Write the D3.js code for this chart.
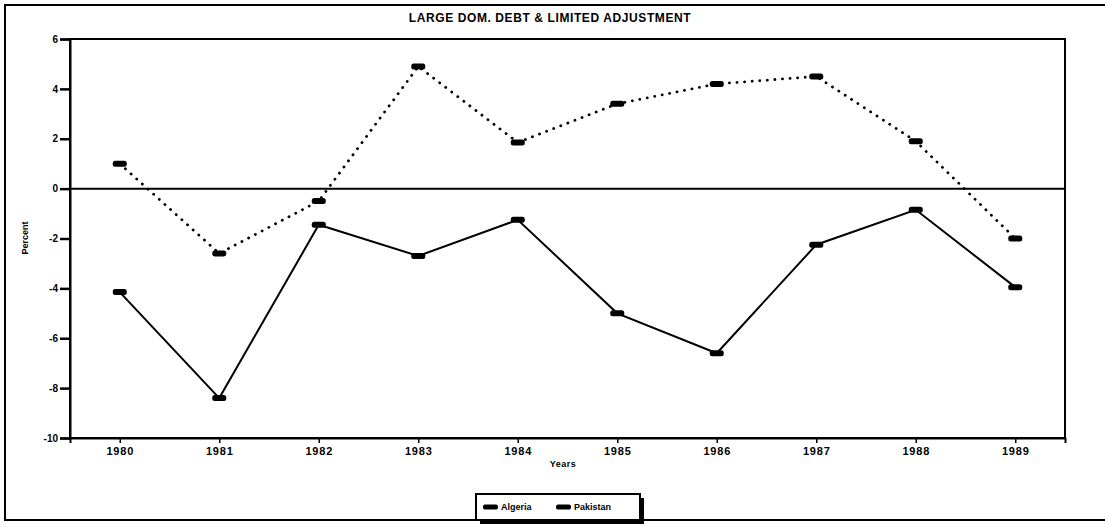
<!DOCTYPE html>
<html>
<head>
<meta charset="utf-8">
<script src="https://cdn.jsdelivr.net/npm/d3@7"></script>
<style>
  body { margin: 0; background: #fff; }
  text { font-family: "Liberation Sans", Arial, sans-serif; font-weight: bold; fill: #000; }
</style>
</head>
<body>
<svg id="chart" width="1105" height="528"></svg>
<script>
// ---- data ----
const years    = [1980, 1981, 1982, 1983, 1984, 1985, 1986, 1987, 1988, 1989];
const algeria  = [-4.15, -8.4, -1.45, -2.7, -1.25, -5.0, -6.6, -2.25, -0.85, -3.95];
const pakistan = [1.0, -2.6, -0.5, 4.9, 1.85, 3.4, 4.2, 4.5, 1.9, -2.0];
const yTicks   = [6, 4, 2, 0, -2, -4, -6, -8, -10];
const title    = 'LARGE DOM. DEBT & LIMITED ADJUSTMENT';

const svg = d3.select('#chart');
const plot = { left: 70, right: 1065, top: 39, bottom: 438 };

// outer frame
svg.append('rect')
  .attr('x', 5).attr('y', 5).attr('width', 1130).attr('height', 515)
  .attr('fill', 'none').attr('stroke', '#000').attr('stroke-width', 2);

svg.append('text')
  .attr('x', 550).attr('y', 22)
  .attr('text-anchor', 'middle')
  .style('font-size', '12px').style('letter-spacing', '0.6px')
  .text(title);

const x = d3.scalePoint().domain(years).range([plot.left, plot.right]).padding(0.5);
const y = d3.scaleLinear().domain([-10, 6]).range([plot.bottom, plot.top]);

// plot box
svg.append('rect')
  .attr('x', plot.left).attr('y', plot.top)
  .attr('width', plot.right - plot.left).attr('height', plot.bottom - plot.top)
  .attr('fill', 'none').attr('stroke', '#000').attr('stroke-width', 2);

/* -------- axes -------- */
const yAxis = svg.append('g')
  .attr('transform', `translate(${plot.left},0)`)
  .call(d3.axisLeft(y).tickValues(yTicks).tickSize(10).tickPadding(2).tickFormat(d => String(d)));
yAxis.select('.domain').attr('stroke-width', 2);
yAxis.selectAll('.tick line').attr('stroke-width', 2.5);
yAxis.selectAll('text').style('font-size', '10px');

const xAxis = svg.append('g')
  .attr('transform', `translate(0,${plot.bottom})`)
  .call(d3.axisBottom(x).tickSize(5).tickPadding(4));
xAxis.select('.domain').attr('stroke-width', 2);
xAxis.selectAll('.tick line').attr('stroke-width', 1.5);
xAxis.selectAll('text').style('font-size', '11px').style('letter-spacing', '0.8px');

svg.append('text')
  .attr('x', 563).attr('y', 467).attr('text-anchor', 'middle')
  .style('font-size', '9px').style('letter-spacing', '0.5px').text('Years');

svg.append('text')
  .attr('transform', 'translate(28,238) rotate(-90)').attr('text-anchor', 'middle')
  .style('font-size', '9px').text('Percent');

// zero line
svg.append('line')
  .attr('x1', plot.left).attr('x2', plot.right)
  .attr('y1', y(0)).attr('y2', y(0))
  .attr('stroke', '#000').attr('stroke-width', 2);

/* -------- series -------- */
const series = [
  { name: 'Algeria',  values: algeria,  dash: null },
  { name: 'Pakistan', values: pakistan, dash: '0.1 7.5' }
];
const line = d3.line().x((d, i) => x(years[i])).y(d => y(d));

series.forEach(s => {
  svg.append('path')
    .datum(s.values)
    .attr('d', line)
    .attr('fill', 'none').attr('stroke', '#000')
    .attr('stroke-width', s.dash ? 2.8 : 2)
    .attr('stroke-linecap', s.dash ? 'round' : 'butt')
    .attr('stroke-dasharray', s.dash);
  svg.append('g').selectAll('rect').data(s.values).enter().append('rect')
    .attr('x', (d, i) => x(years[i]) - 7)
    .attr('y', d => y(d) - 3)
    .attr('width', 14).attr('height', 6)
    .attr('rx', 2.5)
    .attr('fill', '#000');
});

/* -------- legend -------- */
const lg = svg.append('g').attr('transform', 'translate(476,494)');
lg.append('rect').attr('x', 4).attr('y', 4).attr('width', 164).attr('height', 26).attr('fill', '#000');
lg.append('rect').attr('width', 164).attr('height', 26)
  .attr('fill', '#fff').attr('stroke', '#000').attr('stroke-width', 2);
series.forEach((s, i) => {
  const g = lg.append('g').attr('transform', `translate(${7 + i * 73},13)`);
  g.append('rect').attr('x', 0).attr('y', -2.5).attr('width', 15).attr('height', 5).attr('rx', 2).attr('fill', '#000');
  g.append('text').attr('x', 18).attr('y', 3).style('font-size', '9px').text(s.name);
});
</script>
</body>
</html>
